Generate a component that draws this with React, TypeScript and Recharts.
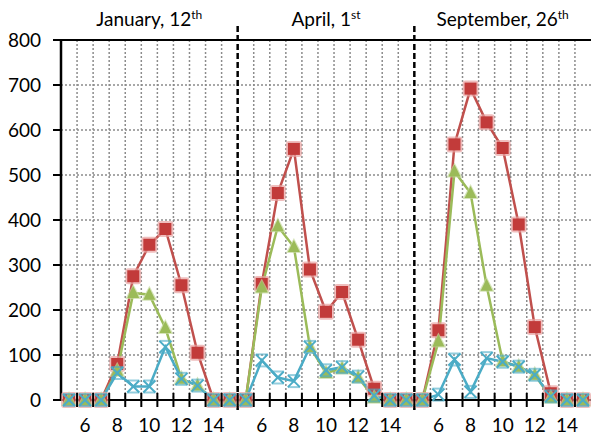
import { LineChart, Line, XAxis, YAxis, CartesianGrid, ReferenceLine } from "recharts";

const hours = [5, 6, 7, 8, 9, 10, 11, 12, 13, 14, 15];
const labelHours = [6, 8, 10, 12, 14];
const yTicks = [0, 100, 200, 300, 400, 500, 600, 700, 800];

const panelTitles = [
  { text: "January, 12", sup: "th" },
  { text: "April, 1", sup: "st" },
  { text: "September, 26", sup: "th" },
];

// values per hour (5h .. 15h), one array per panel and series
const janRed = [0, 0, 0, 80, 275, 345, 380, 255, 105, 0, 0];
const janGreen = [0, 0, 0, 65, 238, 234, 160, 47, 32, 0, 0];
const janCyan = [0, 0, 0, 60, 30, 30, 118, 47, 32, 0, 0];

const aprRed = [0, 258, 460, 558, 290, 196, 240, 134, 25, 0, 0];
const aprGreen = [0, 250, 386, 340, 118, 60, 70, 50, 5, 0, 0];
const aprCyan = [0, 88, 50, 42, 118, 66, 73, 52, 10, 0, 0];

const sepRed = [0, 155, 568, 692, 617, 560, 390, 162, 15, 0, 0];
const sepGreen = [0, 130, 508, 460, 254, 86, 74, 56, 5, 0, 0];
const sepCyan = [0, 12, 90, 18, 93, 85, 74, 56, 8, 0, 0];

const reds = [janRed, aprRed, sepRed];
const greens = [janGreen, aprGreen, sepGreen];
const cyans = [janCyan, aprCyan, sepCyan];

const data = panelTitles.flatMap((_, p) =>
  hours.map((h, i) => ({
    x: p * hours.length + i + 0.5,
    hour: h,
    red: reds[p][i],
    green: greens[p][i],
    cyan: cyans[p][i],
  }))
);

const total = panelTitles.length * hours.length;
const centers = data.map((d) => d.x);
const boundaries = Array.from({ length: total - 1 }, (_, i) => i + 1).filter(
  (b) => b % hours.length !== 0
);

const W = 592;
const H = 437;
const LEFT = 61;
const RIGHT = 1;
const TOP = 40;
const BOTTOM = 37;
const step = (W - LEFT - RIGHT) / total;

const RED = "#c0504d";
const GREEN = "#9bbb59";
const CYAN = "#4bacc6";
const FONT = "Lato, 'Open Sans', sans-serif";

function HourTick(props: any) {
  const { x, y, index } = props;
  const hour = hours[index % hours.length];
  return (
    <g>
      {index > 0 && (
        <line x1={x - step / 2} x2={x - step / 2} y1={y - 7} y2={y + 7} stroke="#000" strokeWidth={2} />
      )}
      {labelHours.includes(hour) && (
        <text x={x} y={y + 32} textAnchor="middle" fontSize={19} fontFamily={FONT} fill="#000">
          {hour}
        </text>
      )}
    </g>
  );
}

function SquareDot(props: any) {
  const { cx, cy, index } = props;
  if (cx == null || cy == null) return <g key={`s-${index}`} />;
  return (
    <g key={`s-${index}`}>
      <rect x={cx - 8} y={cy - 8} width={16} height={16} rx={3} fill="#e8a3a1" opacity={0.7} />
      <rect x={cx - 6} y={cy - 6} width={12} height={12} fill="#c23b3a" />
    </g>
  );
}

function TriangleDot(props: any) {
  const { cx, cy, index } = props;
  if (cx == null || cy == null) return <g key={`t-${index}`} />;
  return (
    <g key={`t-${index}`}>
      <path d={`M${cx},${cy - 9} L${cx + 8},${cy + 6} L${cx - 8},${cy + 6} Z`} fill="#c5d99e" opacity={0.7} />
      <path d={`M${cx},${cy - 7} L${cx + 6},${cy + 5} L${cx - 6},${cy + 5} Z`} fill={GREEN} />
    </g>
  );
}

function StarDot(props: any) {
  const { cx, cy, index } = props;
  if (cx == null || cy == null) return <g key={`x-${index}`} />;
  const r = 6;
  return (
    <g key={`x-${index}`} stroke={CYAN} strokeWidth={2}>
      <line x1={cx - r} y1={cy - r} x2={cx + r} y2={cy + r} />
      <line x1={cx - r} y1={cy + r} x2={cx + r} y2={cy - r} />
      <line x1={cx - r} y1={cy - r} x2={cx + r} y2={cy - r} strokeOpacity={0.6} />
      <line x1={cx - r} y1={cy + r} x2={cx + r} y2={cy + r} strokeOpacity={0.6} />
    </g>
  );
}

export default function App() {
  const panelW = step * hours.length;
  return (
    <div style={{ position: "absolute", left: 0, top: 0, width: W, height: H, background: "#fff" }}>
      {panelTitles.map((t, p) => (
        <div
          key={t.text}
          style={{
            position: "absolute",
            left: LEFT + p * panelW,
            width: panelW,
            top: 4,
            textAlign: "center",
            fontFamily: FONT,
            fontSize: 19,
            lineHeight: "22px",
            color: "#000",
          }}
        >
          {t.text}
          <sup style={{ fontSize: 12 }}>{t.sup}</sup>
        </div>
      ))}
      <LineChart width={W} height={H} data={data} margin={{ top: TOP, right: RIGHT, bottom: 0, left: 0 }}>
        <CartesianGrid
          stroke="#8c8c8c"
          strokeWidth={1.5}
          strokeDasharray="2 2"
          verticalValues={boundaries}
          horizontalValues={[100, 200, 300, 400, 500, 600, 700]}
        />
        <XAxis
          type="number"
          dataKey="x"
          domain={[0, total]}
          ticks={centers}
          interval={0}
          tick={<HourTick />}
          tickLine={false}
          tickSize={0}
          tickMargin={0}
          height={BOTTOM}
          axisLine={{ stroke: "#000", strokeWidth: 2 }}
        />
        <YAxis
          domain={[0, 800]}
          ticks={yTicks}
          interval={0}
          width={LEFT}
          tickSize={8}
          tickMargin={12}
          tickLine={{ stroke: "#000", strokeWidth: 2 }}
          axisLine={{ stroke: "#000", strokeWidth: 2.5 }}
          tick={{ fontSize: 19, fontFamily: FONT, fill: "#000" }}
        />
        <ReferenceLine y={800} stroke="#000" strokeWidth={2} />
        {[1, 2].map((p) => (
          <ReferenceLine
            key={p}
            segment={[
              { x: p * hours.length, y: -22 },
              { x: p * hours.length, y: 838 },
            ]}
            ifOverflow="visible"
            stroke="#000"
            strokeWidth={2.5}
            strokeDasharray="6 3"
          />
        ))}
        <Line
          type="linear"
          dataKey="red"
          stroke={RED}
          strokeWidth={2.5}
          dot={(p: any) => <SquareDot key={`r${p.index}`} {...p} />}
          activeDot={false}
          isAnimationActive={false}
        />
        <Line
          type="linear"
          dataKey="green"
          stroke={GREEN}
          strokeWidth={2.5}
          dot={(p: any) => <TriangleDot key={`g${p.index}`} {...p} />}
          activeDot={false}
          isAnimationActive={false}
        />
        <Line
          type="linear"
          dataKey="cyan"
          stroke={CYAN}
          strokeWidth={2.5}
          dot={(p: any) => <StarDot key={`c${p.index}`} {...p} />}
          activeDot={false}
          isAnimationActive={false}
        />
      </LineChart>
    </div>
  );
}
